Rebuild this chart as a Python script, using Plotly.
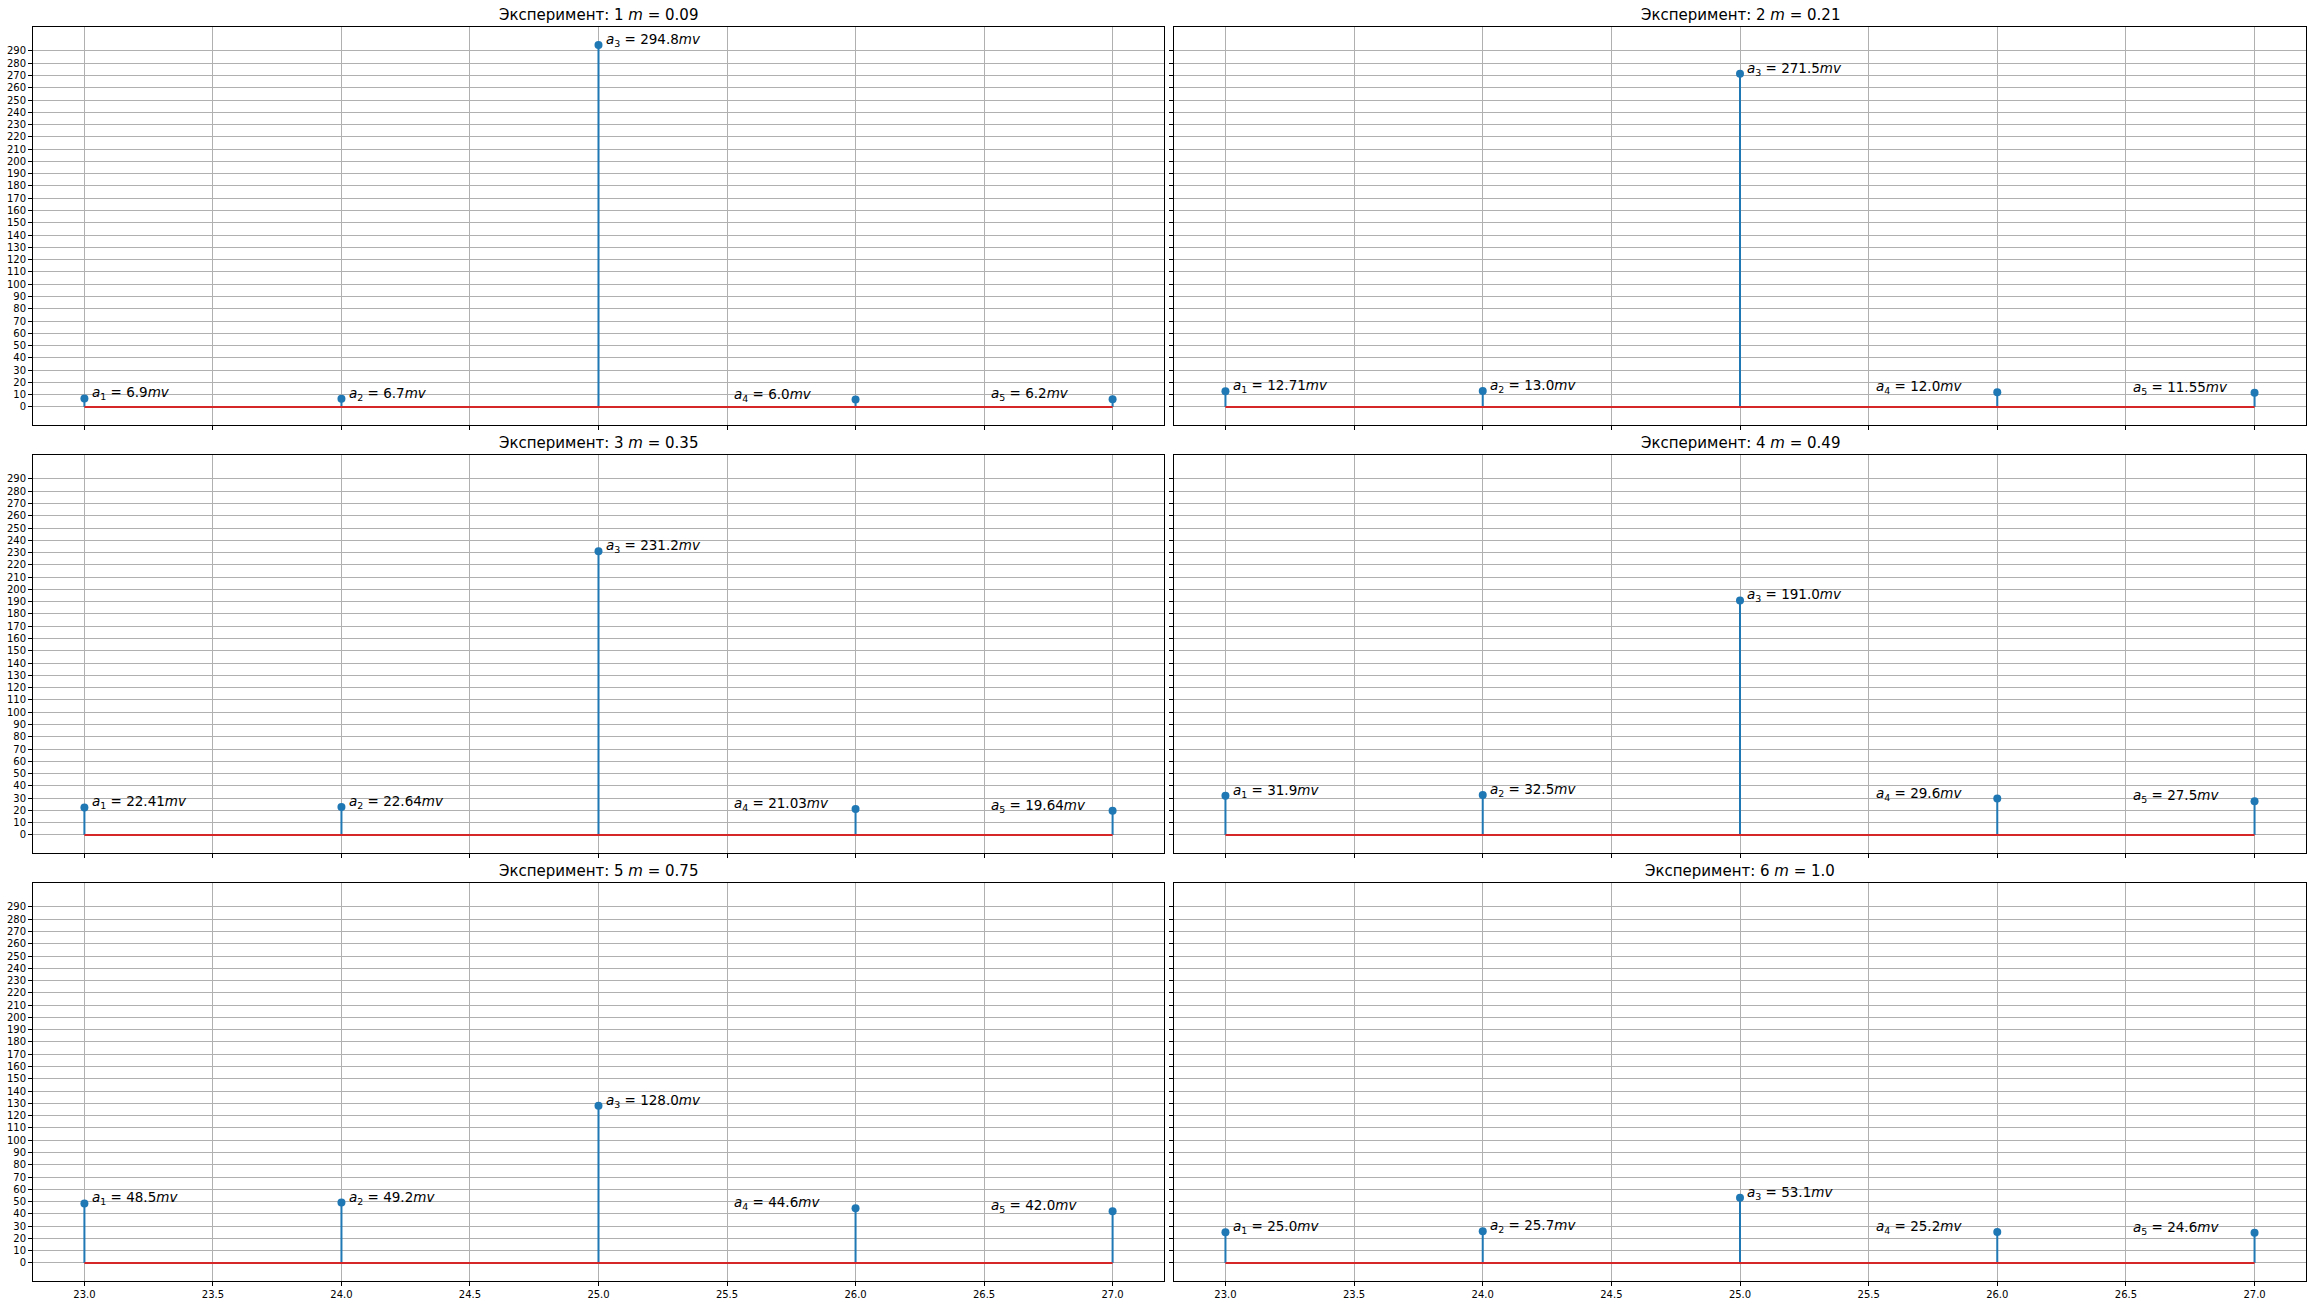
import plotly.graph_objects as go

# ---- data ----
freqs = [23, 24, 25, 26, 27]
experiments = [1, 2, 3, 4, 5, 6]
m_values = [0.09, 0.21, 0.35, 0.49, 0.75, 1.0]
amp_exp1 = [6.9, 6.7, 294.8, 6.0, 6.2]
amp_exp2 = [12.71, 13.0, 271.5, 12.0, 11.55]
amp_exp3 = [22.41, 22.64, 231.2, 21.03, 19.64]
amp_exp4 = [31.9, 32.5, 191.0, 29.6, 27.5]
amp_exp5 = [48.5, 49.2, 128.0, 44.6, 42.0]
amp_exp6 = [25.0, 25.7, 53.1, 25.2, 24.6]
amplitudes = [amp_exp1, amp_exp2, amp_exp3, amp_exp4, amp_exp5, amp_exp6]
x_ticks = [23.0, 23.5, 24.0, 24.5, 25.0, 25.5, 26.0, 26.5, 27.0]
y_ticks = list(range(0, 300, 10))

W, H = 2312, 1304
col_px = [(33, 1164), (1174, 2306)]
row_px = [(27, 425), (455, 853), (883, 1281)]

STEM = "#1f77b4"
BASE = "#d62728"
GRID = "#b0b0b0"
FONT = "DejaVu Sans"

all_vals = [v for a in amplitudes for v in a]
ymax = max(all_vals)
ymin = 0
yr = [ymin - 0.05 * (ymax - ymin), ymax + 0.05 * (ymax - ymin)]
xr = [min(freqs) - 0.05 * (max(freqs) - min(freqs)), max(freqs) + 0.05 * (max(freqs) - min(freqs))]

fig = go.Figure()
annotations = []

for k, (exp, m, amps) in enumerate(zip(experiments, m_values, amplitudes)):
    r, c = divmod(k, 2)
    idx = k + 1
    xa = "x" if idx == 1 else f"x{idx}"
    ya = "y" if idx == 1 else f"y{idx}"
    xkey = "xaxis" if idx == 1 else f"xaxis{idx}"
    ykey = "yaxis" if idx == 1 else f"yaxis{idx}"

    sx, sy = [], []
    for f, a in zip(freqs, amps):
        sx += [f, f, None]
        sy += [0, a, None]
    fig.add_trace(go.Scatter(x=sx, y=sy, mode="lines", line=dict(color=STEM, width=2),
                             xaxis=xa, yaxis=ya, showlegend=False, hoverinfo="skip"))
    fig.add_trace(go.Scatter(x=[min(freqs), max(freqs)], y=[0, 0], mode="lines",
                             line=dict(color=BASE, width=2), xaxis=xa, yaxis=ya,
                             showlegend=False, hoverinfo="skip"))
    fig.add_trace(go.Scatter(x=freqs, y=amps, mode="markers",
                             marker=dict(color=STEM, size=8), xaxis=xa, yaxis=ya,
                             showlegend=False))

    x0, x1 = col_px[c]
    y0, y1 = row_px[r]
    fig.layout[xkey] = dict(
        domain=[x0 / W, x1 / W], range=xr, anchor=ya,
        tickvals=x_ticks, ticktext=[f"{t:.1f}" for t in x_ticks],
        showticklabels=(r == 2), ticks="outside", ticklen=4, tickwidth=1, tickcolor="black",
        showgrid=True, gridcolor=GRID, gridwidth=0.8, zeroline=False,
        showline=True, linecolor="black", linewidth=1, mirror=True,
        tickfont=dict(family=FONT, size=10, color="black"),
    )
    fig.layout[ykey] = dict(
        domain=[1 - y1 / H, 1 - y0 / H], range=yr, anchor=xa,
        tickvals=y_ticks, showticklabels=(c == 0), ticks="outside", ticklen=4, tickwidth=1,
        tickcolor="black",
        showgrid=True, gridcolor=GRID, gridwidth=0.8, zeroline=False,
        showline=True, linecolor="black", linewidth=1, mirror=True,
        tickfont=dict(family=FONT, size=10, color="black"),
    )

    # subplot title
    annotations.append(dict(
        text=f"Эксперимент: {exp} <i>m</i> = {m}",
        x=(x0 + x1) / 2 / W, y=1 - y0 / H, xref="paper", yref="paper",
        xanchor="center", yanchor="bottom", yshift=1, showarrow=False,
        font=dict(family=FONT, size=15, color="black"),
    ))

    for i, (f, a) in enumerate(zip(freqs, amps)):
        tx = f + 0.02 if i < 3 else f - 0.48
        annotations.append(dict(
            text=f"<i>a</i><sub>{i + 1}</sub> = {a}<i>mv</i>",
            x=tx, y=a, xref=xa, yref=ya, xanchor="left", yanchor="bottom",
            yshift=-6, showarrow=False,
            font=dict(family=FONT, size=13.5, color="black"),
        ))

fig.update_layout(
    width=W, height=H, margin=dict(l=0, r=0, t=0, b=0),
    paper_bgcolor="white", plot_bgcolor="white",
    annotations=annotations, showlegend=False,
)

fig.write_html("out.html")
